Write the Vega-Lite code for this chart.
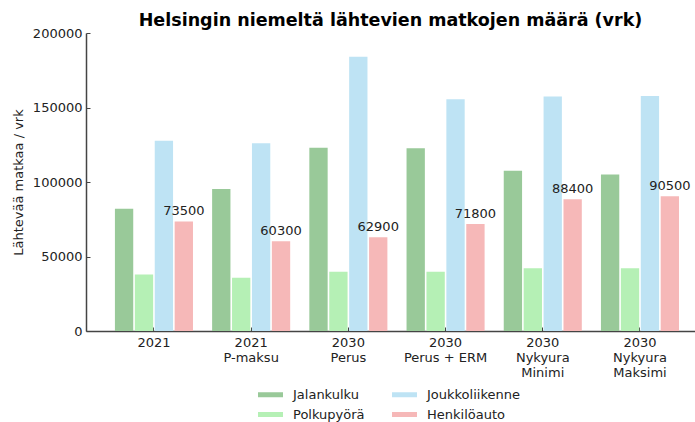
{
  "$schema": "https://vega.github.io/schema/vega-lite/v6.json",
  "width": 609,
  "height": 298,
  "autosize": {"type": "none"},
  "padding": {"left": 86, "top": 33, "right": 0, "bottom": 91},
  "background": "white",
  "config": {"font": "DejaVu Sans", "view": {"stroke": null}},
  "title": {"text": "Helsingin niemeltä lähtevien matkojen määrä (vrk)", "fontSize": 17.5, "fontWeight": "bold", "font": "DejaVu Sans", "color": "#000", "anchor": "middle", "offset": -2},
  "data": {"values": [
    {"group": "2021", "mode": "Jalankulku", "value": 82000},
    {"group": "2021", "mode": "Polkupyörä", "value": 38000},
    {"group": "2021", "mode": "Joukkoliikenne", "value": 127700},
    {"group": "2021", "mode": "Henkilöauto", "value": 73500},
    {"group": "2021|P-maksu", "mode": "Jalankulku", "value": 95300},
    {"group": "2021|P-maksu", "mode": "Polkupyörä", "value": 35800},
    {"group": "2021|P-maksu", "mode": "Joukkoliikenne", "value": 126000},
    {"group": "2021|P-maksu", "mode": "Henkilöauto", "value": 60300},
    {"group": "2030|Perus", "mode": "Jalankulku", "value": 123000},
    {"group": "2030|Perus", "mode": "Polkupyörä", "value": 39800},
    {"group": "2030|Perus", "mode": "Joukkoliikenne", "value": 184100},
    {"group": "2030|Perus", "mode": "Henkilöauto", "value": 62900},
    {"group": "2030|Perus + ERM", "mode": "Jalankulku", "value": 122600},
    {"group": "2030|Perus + ERM", "mode": "Polkupyörä", "value": 39800},
    {"group": "2030|Perus + ERM", "mode": "Joukkoliikenne", "value": 155500},
    {"group": "2030|Perus + ERM", "mode": "Henkilöauto", "value": 71800},
    {"group": "2030|Nykyura|Minimi", "mode": "Jalankulku", "value": 107600},
    {"group": "2030|Nykyura|Minimi", "mode": "Polkupyörä", "value": 42100},
    {"group": "2030|Nykyura|Minimi", "mode": "Joukkoliikenne", "value": 157300},
    {"group": "2030|Nykyura|Minimi", "mode": "Henkilöauto", "value": 88400},
    {"group": "2030|Nykyura|Maksimi", "mode": "Jalankulku", "value": 105100},
    {"group": "2030|Nykyura|Maksimi", "mode": "Polkupyörä", "value": 42100},
    {"group": "2030|Nykyura|Maksimi", "mode": "Joukkoliikenne", "value": 157700},
    {"group": "2030|Nykyura|Maksimi", "mode": "Henkilöauto", "value": 90500}
  ]},
  "resolve": {"axis": {"x": "independent", "y": "independent"}},
  "layer": [
    {
      "mark": {"type": "bar"},
      "encoding": {
        "x": {
          "field": "group", "type": "nominal", "sort": null,
          "scale": {"paddingInner": 0.197, "paddingOuter": 0.231, "align": 0.644},
          "axis": {
            "title": null, "labelAngle": 0, "labelExpr": "split(datum.label, '|')",
            "labelLineHeight": 15, "labelFontSize": 13, "labelColor": "#222", "labelFont": "DejaVu Sans",
            "labelBaseline": "top", "labelPadding": 5, "ticks": false, "tickSize": 0,
            "domainColor": "#444", "domainWidth": 1.5, "grid": false
          }
        },
        "xOffset": {"field": "mode", "type": "nominal", "scale": {"domain": ["Jalankulku", "Polkupyörä", "Joukkoliikenne", "Henkilöauto"], "paddingInner": 0.08}},
        "y": {
          "field": "value", "type": "quantitative",
          "scale": {"domain": [0, 200000], "nice": false},
          "axis": {
            "title": "Lähtevää matkaa / vrk", "titleFontSize": 13, "titleFontWeight": "normal", "titleColor": "#222", "titleFont": "DejaVu Sans", "titlePadding": 7,
            "values": [0, 50000, 100000, 150000, 200000], "format": "d",
            "labelFontSize": 13, "labelColor": "#222", "labelFont": "DejaVu Sans", "labelPadding": 4,
            "ticks": false, "tickSize": 0,
            "domainColor": "#444", "domainWidth": 1.5, "grid": false
          }
        },
        "color": {
          "field": "mode", "type": "nominal",
          "scale": {"domain": ["Jalankulku", "Polkupyörä", "Joukkoliikenne", "Henkilöauto"], "range": ["#99c999", "#b5f0b5", "#bee3f4", "#f6b8b8"]},
          "legend": {
            "title": null, "orient": "none", "legendX": 172, "legendY": 349,
            "columns": 2, "columnPadding": 27, "rowPadding": -6,
            "symbolType": "M-1,-0.2H1V0.2H-1Z", "symbolSize": 625, "symbolStrokeWidth": 0,
            "labelFontSize": 13, "labelColor": "#222", "labelFont": "DejaVu Sans", "labelOffset": 10
          }
        }
      }
    },
    {
      "transform": [{"filter": "datum.mode === 'Henkilöauto'"}],
      "mark": {"type": "text", "baseline": "bottom", "dy": -3, "fontSize": 13, "font": "DejaVu Sans", "color": "#222"},
      "encoding": {
        "x": {
          "field": "group", "type": "nominal", "sort": null,
          "axis": {"orient": "top", "offset": -298, "title": null, "labels": false, "domain": false, "grid": false, "ticks": true, "tickSize": 4, "tickColor": "#444", "tickWidth": 1}
        },
        "xOffset": {"field": "mode", "type": "nominal"},
        "y": {
          "field": "value", "type": "quantitative",
          "axis": {"orient": "right", "offset": -609, "title": null, "labels": false, "domain": false, "grid": false, "ticks": true, "tickSize": 4, "tickColor": "#444", "tickWidth": 1, "values": [0, 50000, 100000, 150000, 200000]}
        },
        "text": {"field": "value", "type": "quantitative", "format": "d"}
      }
    }
  ]
}
